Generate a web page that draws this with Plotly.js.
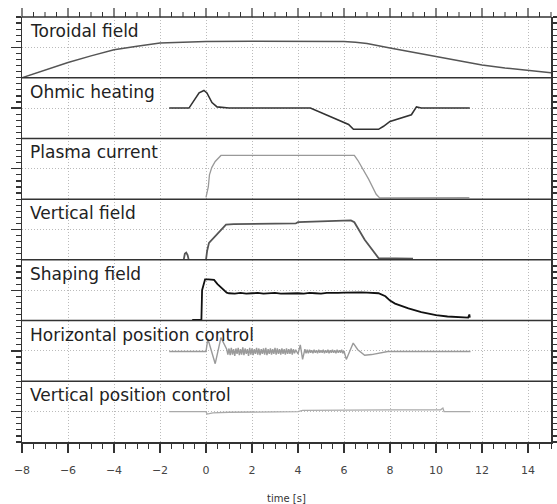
<!DOCTYPE html>
<html>
<head>
<meta charset="utf-8">
<script src="https://cdn.plot.ly/plotly-3.0.1.min.js"></script>
<style>html,body{margin:0;padding:0;background:#fff}#chart{width:557px;height:504px}</style>
</head>
<body>
<div id="chart"></div>
<script>
// Panel labels (top to bottom)
var panelNames = ["Toroidal field","Ohmic heating","Plasma current","Vertical field","Shaping field","Horizontal position control","Vertical position control"];
var xTickVals = [-8,-6,-4,-2,0,2,4,6,8,10,12,14];
var xRange = [-8, 15];

// Toroidal field
var torX = [-8,-7,-6,-5,-4,-3,-2,-1,0,2,4,6,6.5,7,8,9,10,11,12,13,14,15];
var torY = [0,0.13,0.25,0.36,0.46,0.52,0.57,0.585,0.595,0.6,0.6,0.595,0.585,0.565,0.49,0.42,0.34,0.28,0.21,0.16,0.115,0.08];

// Ohmic heating
var ohmX = [-1.6,-0.74,-0.3,-0.09,0.04,0.26,0.48,1.0,4.54,5.62,6.2,6.41,7.5,7.72,8.0,8.93,9.15,9.36,11.47];
var ohmY = [0.5,0.5,0.75,0.79,0.75,0.59,0.52,0.5,0.5,0.32,0.23,0.15,0.15,0.2,0.28,0.39,0.52,0.5,0.5];

// Plasma current
var ipX = [0,0.1,0.15,0.25,0.4,0.65,6.45,6.6,7.07,7.4,7.55,9,11.45];
var ipY = [0.03,0.2,0.4,0.52,0.62,0.72,0.72,0.64,0.33,0.08,0.02,0.02,0.025];

// Vertical field
var vfX = [-0.97,-0.92,-0.86,-0.8,-0.75,null,0,0.05,0.13,0.35,0.56,0.87,1.2,2.7,3.0,3.9,4.0,5.0,6.3,6.45,6.9,7.5,9.0];
var vfY = [0,0.1,0.12,0.08,0,null,0,0.15,0.28,0.37,0.47,0.58,0.59,0.59,0.6,0.6,0.62,0.63,0.65,0.62,0.33,0.03,0.02];

// Shaping field
var sfX = [-0.6,-0.2,-0.17,-0.04,0.1,0.35,0.5,0.65,0.9,
  1.0,1.25,1.5,1.75,2.0,2.25,2.5,2.75,3.0,3.25,3.5,3.75,4.0,4.25,4.5,4.75,5.0,5.25,5.5,5.75,6.0,6.25,6.5,6.75,7.0,7.25,7.5,
  7.8,8.0,8.22,8.8,9.36,10.0,10.5,11.0,11.4,11.45,11.47];
var sfY = [0.01,0.01,0.5,0.68,0.68,0.67,0.6,0.55,0.46,
  0.45,0.445,0.455,0.445,0.45,0.455,0.445,0.45,0.455,0.445,0.45,0.455,0.45,0.445,0.455,0.45,0.445,0.455,0.45,0.455,0.46,0.465,0.46,0.465,0.46,0.455,0.45,
  0.4,0.33,0.28,0.2,0.14,0.09,0.067,0.055,0.05,0.1,0.05];

// Horizontal position control
var hpX = [-1.6,0,0.08,0.4,0.65,0.87,
  0.9,0.95,1.0,1.05,1.1,1.15,1.2,1.25,1.3,1.35,1.4,1.45,1.5,1.55,1.6,1.65,1.7,1.75,1.8,1.85,1.9,1.95,2.0,2.05,2.1,2.15,2.2,2.25,2.3,2.35,2.4,2.45,2.5,2.55,2.6,2.65,2.7,2.75,2.8,2.85,2.9,2.95,3.0,3.05,3.1,3.15,3.2,3.25,3.3,3.35,3.4,3.45,3.5,3.55,3.6,3.65,3.7,3.75,3.8,3.85,
  3.9,4.0,4.1,4.2,4.3,4.35,4.4,4.45,4.5,4.55,4.6,4.65,4.7,4.75,4.8,4.85,4.9,4.95,5.0,5.05,5.1,5.15,5.2,5.25,5.3,5.35,5.4,5.45,5.5,5.55,5.6,5.65,5.7,5.75,5.8,5.85,5.9,5.95,6.0,
  6.1,6.2,6.4,6.6,6.9,7.2,7.5,7.9,8.5,11.5];
var hpY = [0.49,0.49,0.7,0.29,0.72,0.54,
  0.53,0.44,0.54,0.43,0.55,0.44,0.53,0.42,0.54,0.45,0.55,0.43,0.53,0.44,0.56,0.43,0.54,0.45,0.53,0.42,0.55,0.44,0.54,0.43,0.53,0.45,0.55,0.44,0.54,0.43,0.53,0.45,0.54,0.44,0.55,0.43,0.53,0.45,0.54,0.44,0.53,0.45,0.55,0.44,0.54,0.45,0.53,0.44,0.54,0.45,0.53,0.44,0.54,0.45,0.53,0.45,0.54,0.44,0.53,0.46,
  0.52,0.45,0.6,0.36,0.53,0.46,0.52,0.46,0.52,0.47,0.51,0.46,0.52,0.47,0.51,0.46,0.52,0.47,0.51,0.47,0.52,0.46,0.51,0.47,0.52,0.46,0.51,0.47,0.52,0.47,0.51,0.46,0.52,0.47,0.51,0.47,0.52,0.46,0.5,
  0.36,0.45,0.63,0.52,0.43,0.44,0.46,0.49,0.49,0.49];

// Vertical position control
var vpX = [-1.6,0,0.05,0.3,1,4,4.2,6,8,10.2,10.3,10.35,10.5,11.5];
var vpY = [0.5,0.5,0.46,0.48,0.49,0.5,0.52,0.53,0.53,0.53,0.56,0.5,0.5,0.5];

var seriesX = [torX, ohmX, ipX, vfX, sfX, hpX, vpX];
var seriesY = [torY, ohmY, ipY, vfY, sfY, hpY, vpY];
var colors = ['#555','#333','#999','#555','#111','#9a9a9a','#aaa'];
var widths = [1.5,1.6,1.3,1.8,1.8,1.4,1.3];

var N = 7;
var DOT = '1px,2px';
var PLOT_H = 504 - 17 - 62;
var traces = [];
var layout = {
  width: 557, height: 504,
  margin: {l: 22, r: 6, t: 17, b: 62},
  paper_bgcolor: '#fff', plot_bgcolor: '#fff',
  showlegend: false,
  font: {family: 'DejaVu Sans, Arial, sans-serif', color: '#333'},
  shapes: [],
  annotations: [],
  xaxis: {
    range: xRange, tickmode: 'array', tickvals: xTickVals,
    ticktext: xTickVals.map(function(v){return v < 0 ? '\u2212' + Math.abs(v) : String(v);}),
    ticks: 'outside', ticklen: 9, tickwidth: 1.2, tickcolor: '#333',
    minor: {tickmode: 'linear', tick0: -8, dtick: 0.5, ticks: 'outside', ticklen: 5, tickcolor: '#333', tickwidth: 1, showgrid: false},
    showgrid: true, gridcolor: '#bbb', griddash: DOT, gridwidth: 1,
    showline: true, linecolor: '#333', linewidth: 1.5, zeroline: false, domain: [0, 1],
    anchor: 'y',
    tickfont: {size: 11, color: '#444'},
    ticklabelstandoff: 8,
    title: {text: 'time [s]', font: {size: 10, color: '#333'}, standoff: 19}
  }
};

for (var k = 0; k < N; k++) {
  var idx = N - k; // 7 for top, 1 for bottom
  var axName = idx === 1 ? 'yaxis' : 'yaxis' + idx;
  var axRef = idx === 1 ? 'y' : 'y' + idx;
  layout[axName] = {
    domain: [(idx - 1) / N, idx / N],
    range: [0, 1], anchor: 'x',
    tickmode: 'linear', tick0: 0.5, dtick: 1,
    ticks: 'outside', ticklen: 10, tickwidth: 1.2, tickcolor: '#333',
    minor: {tickmode: 'linear', tick0: 0, dtick: 0.1, ticks: 'outside', ticklen: 5, tickcolor: '#333', showgrid: false},
    showticklabels: false,
    showgrid: true, gridcolor: '#bbb', griddash: DOT, gridwidth: 1,
    showline: true, linecolor: '#333', linewidth: 1.5, mirror: 'ticks', zeroline: false,
    fixedrange: true
  };
  traces.push({
    type: 'scatter', mode: 'lines',
    x: seriesX[k], y: seriesY[k],
    xaxis: 'x', yaxis: axRef,
    line: {color: colors[k], width: widths[k]},
    connectgaps: false, hoverinfo: 'skip'
  });
  layout.annotations.push({
    xref: 'paper', yref: 'paper', x: 0.012, y: idx / N,
    xanchor: 'left', yanchor: 'top', yshift: -2, showarrow: false,
    text: panelNames[k], font: {family: 'DejaVu Sans, Arial, sans-serif', size: 17, color: '#222'}
  });
  if (idx > 1) {
    layout.shapes.push({
      type: 'line', xref: 'paper', yref: 'paper', x0: 0, x1: 1,
      y0: (idx - 1) / N, y1: (idx - 1) / N,
      line: {color: '#333', width: 1.5}, layer: 'above'
    });
  }
}
// top frame line and its upward ticks (tick positions mapped from the x range onto the paper)
layout.shapes.push({type: 'line', xref: 'paper', yref: 'paper', x0: 0, x1: 1, y0: 1, y1: 1,
  line: {color: '#333', width: 1.5}, layer: 'above'});
for (var t = xRange[0]; t <= xRange[1] + 1e-9; t += 0.5) {
  var isMajor = xTickVals.indexOf(t) >= 0;
  var px = (t - xRange[0]) / (xRange[1] - xRange[0]);
  layout.shapes.push({
    type: 'line', xref: 'paper', yref: 'paper',
    x0: px, x1: px, y0: 1, y1: 1 + (isMajor ? 9 : 5) / PLOT_H,
    line: {color: '#333', width: isMajor ? 1.2 : 1}, layer: 'above'
  });
}

Plotly.newPlot('chart', traces, layout, {displayModeBar: false, staticPlot: true});
</script>
</body>
</html>
